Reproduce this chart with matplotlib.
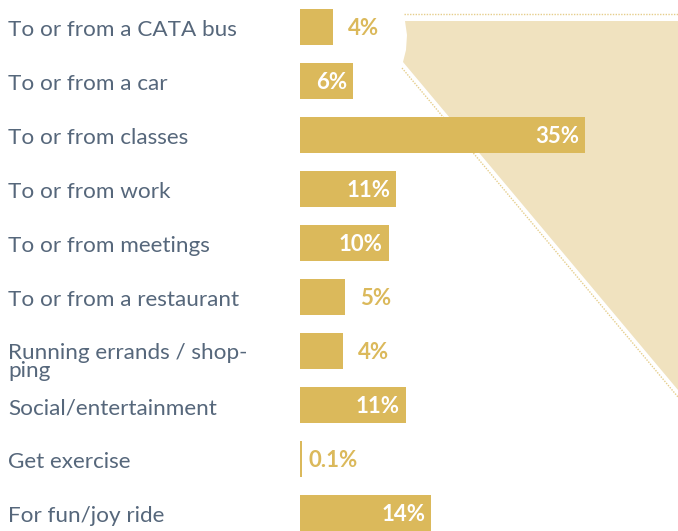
import matplotlib
matplotlib.use("Agg")
import matplotlib.pyplot as plt
from matplotlib.patches import Polygon
from matplotlib.lines import Line2D

plt.rcParams['font.family'] = ['Lato', 'DejaVu Sans']

categories = [
    "To or from a CATA bus",
    "To or from a car",
    "To or from classes",
    "To or from work",
    "To or from meetings",
    "To or from a restaurant",
    "Running errands / shop-\nping",
    "Social/entertainment",
    "Get exercise",
    "For fun/joy ride",
]
values = [4.05, 6.5, 35.0, 11.8, 10.9, 5.5, 5.3, 13.0, 0.25, 16.1]
value_labels = ["4%", "6%", "35%", "11%", "10%", "5%", "4%", "11%", "0.1%", "14%"]

GOLD = "#dbb95b"
BEIGE = "#f0e2bf"
GRAY = "#56677b"

W, H = 678, 531
fig = plt.figure(figsize=(W / 100, H / 100), dpi=100)

def px(x, y):
    return (x / W, 1 - y / H)

# background shape on the right
shape = [px(405, 21), px(407, 35), px(406, 50), px(403, 62), px(678, 390), px(678, 21)]
fig.add_artist(Polygon(shape, closed=True, transform=fig.transFigure,
                       facecolor=BEIGE, edgecolor="none", zorder=-2))
x0, y0 = px(404, 14)
x1, y1 = px(678, 14)
fig.add_artist(Line2D([x0, x1], [y0, y1], transform=fig.transFigure,
                      color=GOLD, lw=1, ls=(0, (1, 1)), alpha=0.7, zorder=-1))
x0, y0 = px(402, 68)
x1, y1 = px(678, 397)
fig.add_artist(Line2D([x0, x1], [y0, y1], transform=fig.transFigure,
                      color=GOLD, lw=1, ls=(0, (1, 1)), alpha=0.7, zorder=-1))

ax = fig.add_axes([300 / W, 0, 378 / W, 1])
ax.axis("off")
ax.set_xlim(0, 378 / 8.14)
ax.set_ylim(9.333, -0.5)

ypos = list(range(len(categories)))
ax.barh(ypos, values, height=0.667, color=GOLD, zorder=3)

for i, (cat, v, lab) in enumerate(zip(categories, values, value_labels)):
    extra = cat.count("\n")
    ax.annotate(cat, xy=(0, i), xytext=(-292, -9 - 17 * extra),
                xycoords=ax.get_yaxis_transform(), textcoords="offset pixels",
                ha="left", va="baseline", fontsize=16.2, color=GRAY,
                linespacing=0.85, annotation_clip=False)
    if v >= 6:
        ax.annotate(lab, xy=(v, i), xytext=(-6, -8), textcoords="offset pixels",
                    ha="right", va="baseline", fontsize=16, fontweight="bold",
                    color="white", zorder=4)
    else:
        off = 6 if v < 1 else 15
        ax.annotate(lab, xy=(v, i), xytext=(off, -8), textcoords="offset pixels",
                    ha="left", va="baseline", fontsize=16, fontweight="bold",
                    color=GOLD, zorder=4)

fig.savefig("out.png", dpi=100)
